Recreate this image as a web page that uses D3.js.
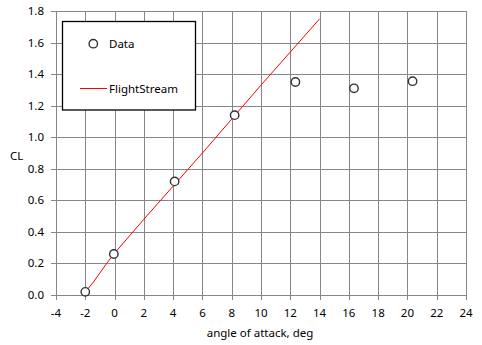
<!DOCTYPE html>
<html>
<head>
<meta charset="utf-8">
<script src="https://cdn.jsdelivr.net/npm/d3@7"></script>
<style>
  body { margin: 0; background: #fff; }
  svg text { font-family: "Noto Sans", "Open Sans", sans-serif; fill: #000; }
</style>
</head>
<body>
<svg id="chart" width="482" height="345"></svg>
<script>
// measured points (angle of attack, CL)
const dataAlpha = [-2.0, -0.05, 4.1, 8.2, 12.35, 16.35, 20.35];
const dataCL    = [0.02, 0.26, 0.72, 1.14, 1.35, 1.31, 1.355];

// FlightStream prediction
const fsAlpha = [-2, -1.5, -1, -0.5, 0, 2, 4, 6, 8, 10, 12, 14];
const fsCL    = [0.02, 0.075, 0.14, 0.205, 0.265, 0.48, 0.69, 0.9, 1.115, 1.33, 1.54, 1.75];

const xTicks = d3.range(-4, 25, 2);
const yTicks = d3.range(0, 1.81, 0.2);

const svg = d3.select('#chart');
const m = { left: 56, right: 16, top: 11, bottom: 50 };
const W = 482, H = 345;

const x = d3.scaleLinear().domain([-4, 24]).range([m.left, W - m.right]);
const y = d3.scaleLinear().domain([0, 1.8]).range([H - m.bottom, m.top]);

const grid = svg.append('g').attr('stroke', '#868686').attr('stroke-width', 1).attr('shape-rendering', 'crispEdges');
grid.selectAll('line.v').data(xTicks).join('line')
  .attr('x1', d => Math.round(x(d)) + 0.5).attr('x2', d => Math.round(x(d)) + 0.5)
  .attr('y1', y(1.8)).attr('y2', y(0) + 5);
grid.selectAll('line.h').data(yTicks).join('line')
  .attr('y1', d => Math.round(y(d)) + 0.5).attr('y2', d => Math.round(y(d)) + 0.5)
  .attr('x1', x(-4) - 5).attr('x2', x(24));

// tick labels
svg.append('g').selectAll('text').data(xTicks).join('text')
  .attr('x', d => x(d)).attr('y', y(0) + 22)
  .attr('text-anchor', 'middle').attr('font-size', 11.5)
  .text(d => d);
svg.append('g').selectAll('text').data(yTicks).join('text')
  .attr('x', x(-4) - 12).attr('y', d => y(d) + 4)
  .attr('text-anchor', 'end').attr('font-size', 11.5)
  .text(d => d.toFixed(1));

svg.append('text').attr('x', 260).attr('y', 337).attr('text-anchor', 'middle')
  .attr('font-size', 11.5).text('angle of attack, deg');
svg.append('text').attr('x', 10).attr('y', 160).attr('font-size', 11.5).text('CL');

// FlightStream line
const line = d3.line().x(d => x(d[0])).y(d => y(d[1]));
svg.append('path').datum(d3.zip(fsAlpha, fsCL))
  .attr('d', line).attr('fill', 'none').attr('stroke', '#ff0000').attr('stroke-width', 1);

// data markers
svg.append('g').selectAll('circle').data(d3.zip(dataAlpha, dataCL)).join('circle')
  .attr('cx', d => x(d[0])).attr('cy', d => y(d[1])).attr('r', 4.2)
  .attr('fill', '#fff').attr('stroke', '#333').attr('stroke-width', 1.4);

// legend
const lg = svg.append('g');
lg.append('rect').attr('x', 62.5).attr('y', 21.5).attr('width', 133).attr('height', 88.5)
  .attr('fill', '#fff').attr('stroke', '#000').attr('stroke-width', 1.3);
lg.append('circle').attr('cx', 93.3).attr('cy', 43.7).attr('r', 4.2)
  .attr('fill', '#fff').attr('stroke', '#333').attr('stroke-width', 1.4);
lg.append('text').attr('x', 109).attr('y', 48).attr('font-size', 11.5).text('Data');
lg.append('line').attr('x1', 80).attr('x2', 107).attr('y1', 88.5).attr('y2', 88.5)
  .attr('stroke', '#ff0000').attr('stroke-width', 1);
lg.append('text').attr('x', 109).attr('y', 92.5).attr('font-size', 11.5).text('FlightStream');
</script>
</body>
</html>
